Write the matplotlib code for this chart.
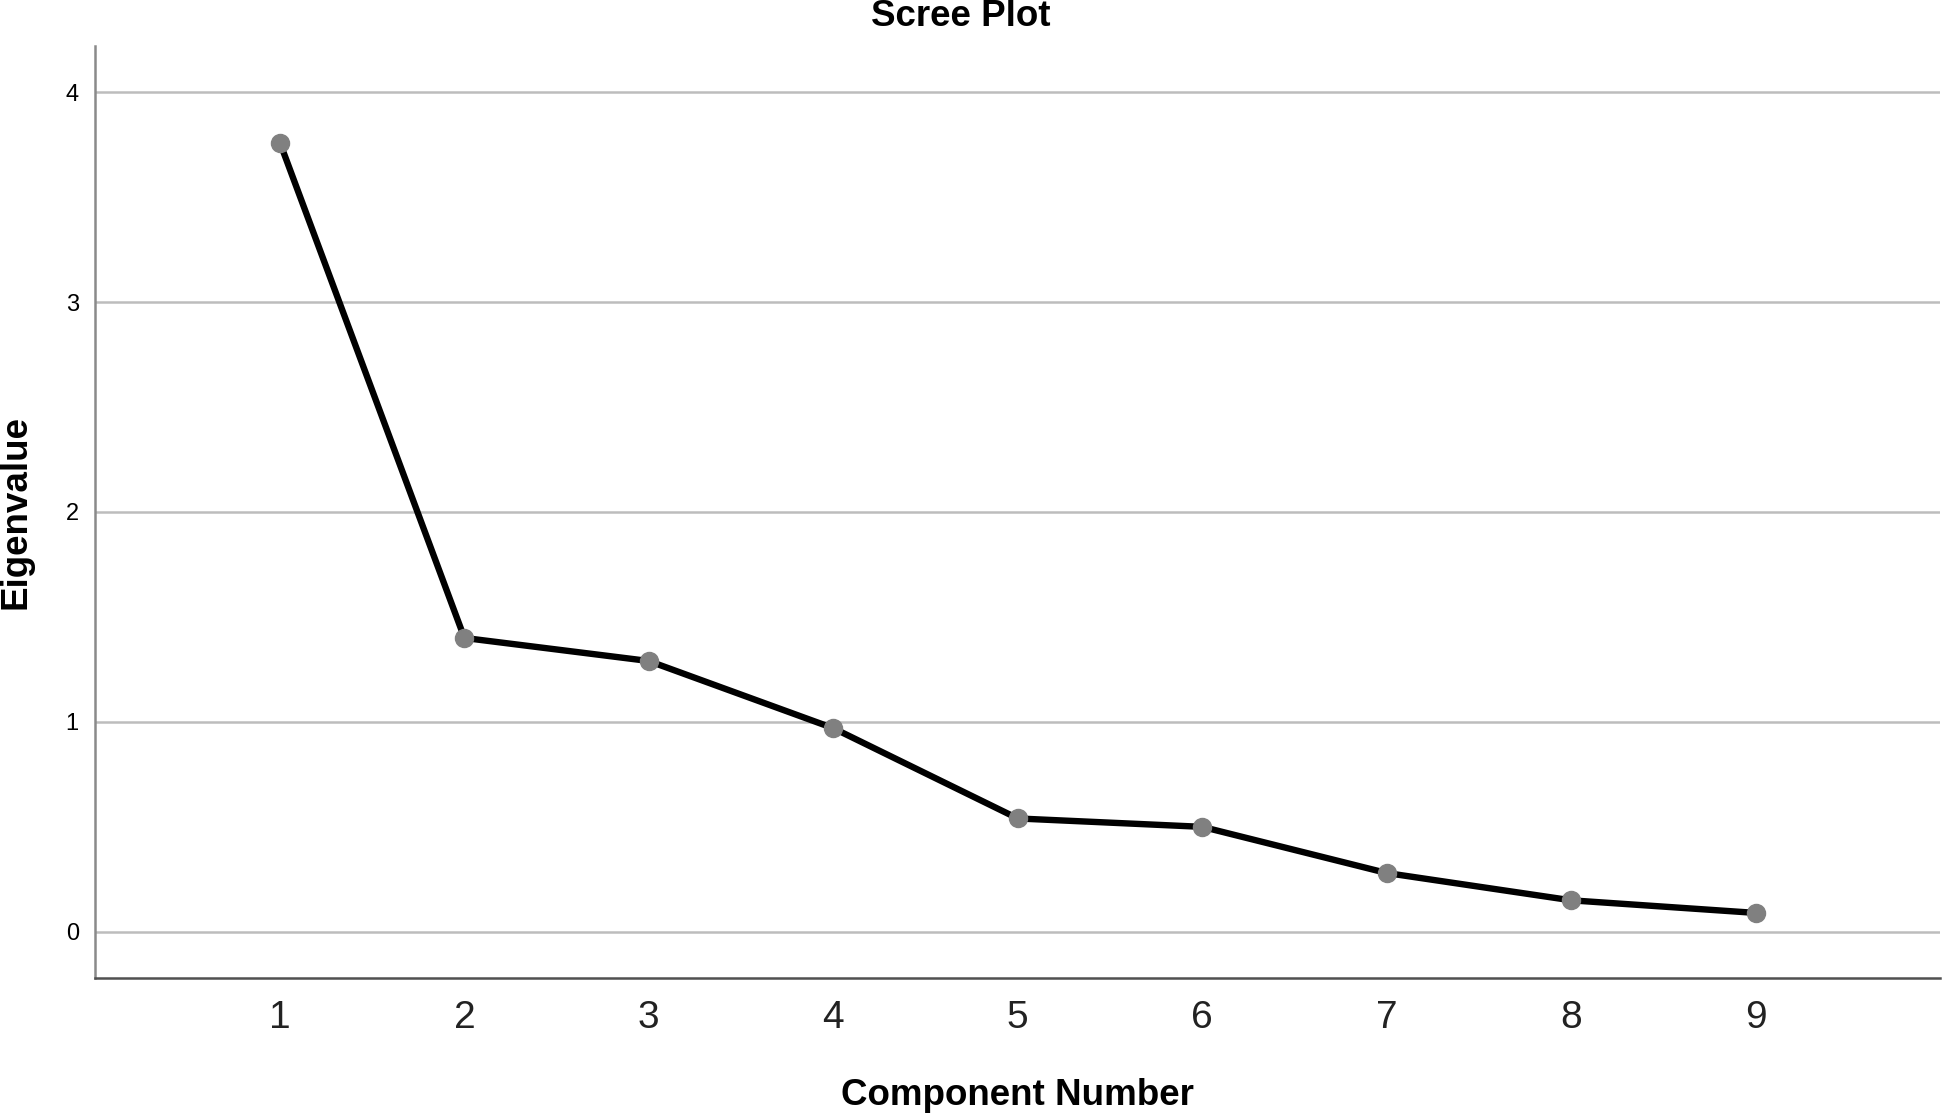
import matplotlib
matplotlib.use("Agg")
import matplotlib.pyplot as plt

# Scree plot data
components = [1, 2, 3, 4, 5, 6, 7, 8, 9]
eigenvalues = [3.76, 1.40, 1.29, 0.97, 0.54, 0.50, 0.28, 0.15, 0.09]
y_ticks = [0, 1, 2, 3, 4]

plt.rcParams['font.family'] = ['Liberation Sans', 'DejaVu Sans']

fig = plt.figure(figsize=(19.44, 11.14), dpi=100)
ax = fig.add_axes([0.0491, 0.1221, 0.9489, 0.8366])

# Draw the line and markers
ax.plot(components, eigenvalues, color='black', linewidth=4.6, zorder=3)
ax.plot(components, eigenvalues, linestyle='none', marker='o', markersize=13,
        color='#808080', zorder=4)

ax.set_xlim(0, 10)
ax.set_ylim(-0.22, 4.22)
ax.set_xticks(components)
ax.set_yticks(y_ticks)

# Horizontal grid only
ax.yaxis.grid(True, color='#bdbdbd', linewidth=1.8)
ax.set_axisbelow(True)

for side in ['top', 'right']:
    ax.spines[side].set_visible(False)
ax.spines['left'].set_color('#8a8a8a')
ax.spines['left'].set_linewidth(1.8)
ax.spines['bottom'].set_color('#505050')
ax.spines['bottom'].set_linewidth(1.8)

ax.tick_params(axis='both', length=0)
ax.tick_params(axis='y', labelsize=17, pad=12)
ax.tick_params(axis='x', labelsize=28, pad=16, labelcolor='#222222')
for lbl in ax.get_xticklabels():
    lbl.set_fontweight('light')

# Labels and title
fig.text(0.494, 0.985, 'Scree Plot', ha='center', va='center',
         fontsize=26.5, fontweight='bold')
ax.set_xlabel('Component Number', fontsize=26.5, fontweight='bold', labelpad=30)
fig.text(0.008, 0.54, 'Eigenvalue', rotation=90, ha='center', va='center',
         fontsize=26.5, fontweight='bold')

fig.savefig('out.png', dpi=100)
